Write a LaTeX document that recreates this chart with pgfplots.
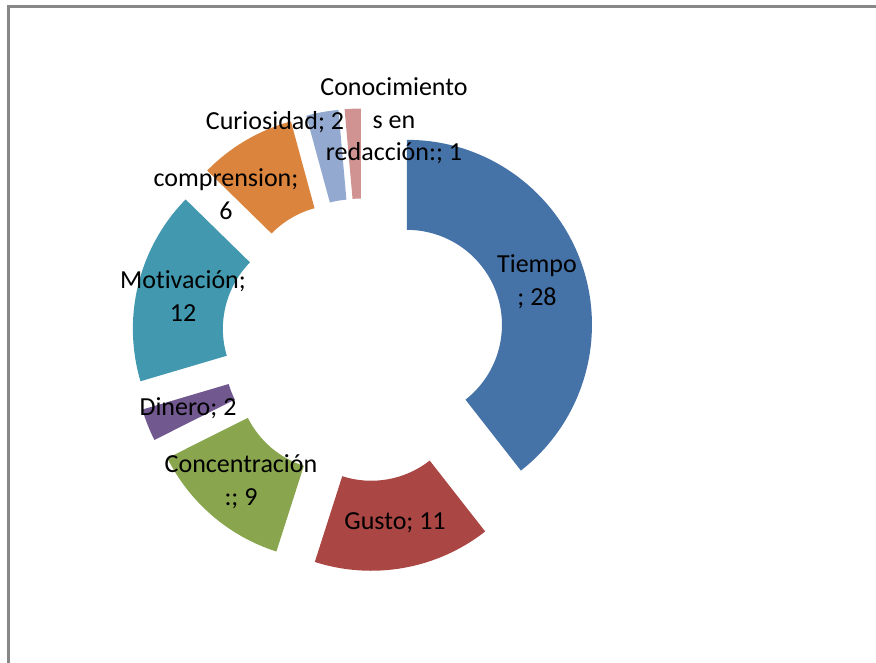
\documentclass[border=0pt]{standalone}
\usepackage{pgfplots}
\usepackage{pgfplotstable}
\pgfplotsset{compat=1.18}
\usepackage{fontspec}
\setmainfont{Carlito}[Ligatures={NoCommon,NoContextual}]
\definecolor{c0}{HTML}{4572A7}
\definecolor{c1}{HTML}{AA4643}
\definecolor{c2}{HTML}{89A54E}
\definecolor{c3}{HTML}{71588F}
\definecolor{c4}{HTML}{4198AF}
\definecolor{c5}{HTML}{DB843D}
\definecolor{c6}{HTML}{93A9CF}
\definecolor{c7}{HTML}{D19392}
\definecolor{frame}{HTML}{878787}
\tikzset{lbl/.style={font=\fontsize{26}{32.5}\selectfont,text=black,align=center,inner sep=0pt}}
\pgfplotstableread[col sep=comma]{
label,value
Tiempo,28
Gusto,11
Concentracion,9
Dinero,2
Motivacion,12
comprension,6
Curiosidad,2
Conocimientos,1
}\data
\begin{document}
\begin{tikzpicture}
\begin{axis}[x=1pt,y=1pt,xmin=0,xmax=876,ymin=0,ymax=663,hide axis,clip=false]
\pgfplotsextra{
  \gdef\tot{0}
  \foreach \i in {0,...,7}{%
    \pgfplotstablegetelem{\i}{value}\of\data
    \pgfmathsetmacro\nt{\tot+\pgfplotsretval}%
    \xdef\tot{\nt}%
  }
  \gdef\cum{0}
  \foreach \i in {0,...,7}{%
    \pgfplotstablegetelem{\i}{value}\of\data
    \let\val\pgfplotsretval
    \pgfmathsetmacro\aone{90-\cum/\tot*360}%
    \pgfmathsetmacro\atwo{90-(\cum+\val)/\tot*360}%
    \pgfmathsetmacro\amid{(\aone+\atwo)/2}%
    \pgfmathsetmacro\cx{363+46.5*cos(\amid)}%
    \pgfmathsetmacro\cy{323+46.5*sin(\amid)}%
    \fill[c\i] ([shift={(\aone:185pt)}]axis cs:\cx,\cy) arc[start angle=\aone,end angle=\atwo,radius=185pt]
      -- ([shift={(\atwo:95pt)}]axis cs:\cx,\cy) arc[start angle=\atwo,end angle=\aone,radius=95pt] -- cycle;
    \pgfmathsetmacro\nc{\cum+\val}%
    \xdef\cum{\nc}%
  }
  \draw[frame,line width=3pt] (axis cs:8,0) -- (axis cs:8,656) -- (axis cs:876,656);
}
\node[lbl] at (axis cs:537,381.5) {Tiempo\\; 28};
\node[lbl] at (axis cs:395,140) {Gusto; 11};
\node[lbl] at (axis cs:241,181.5) {Concentración\\:; 9};
\node[lbl] at (axis cs:188,255) {Dinero; 2};
\node[lbl] at (axis cs:183,367) {Motivación;\\12};
\node[lbl] at (axis cs:226,469) {comprension;\\6};
\node[lbl] at (axis cs:275,541) {Curiosidad; 2};
\node[lbl] at (axis cs:394,542) {Conocimiento\\s en\\redacción:; 1};
\end{axis}
\pgfresetboundingbox
\path[use as bounding box] (0,0) rectangle (876pt,663pt);
\end{tikzpicture}
\end{document}
